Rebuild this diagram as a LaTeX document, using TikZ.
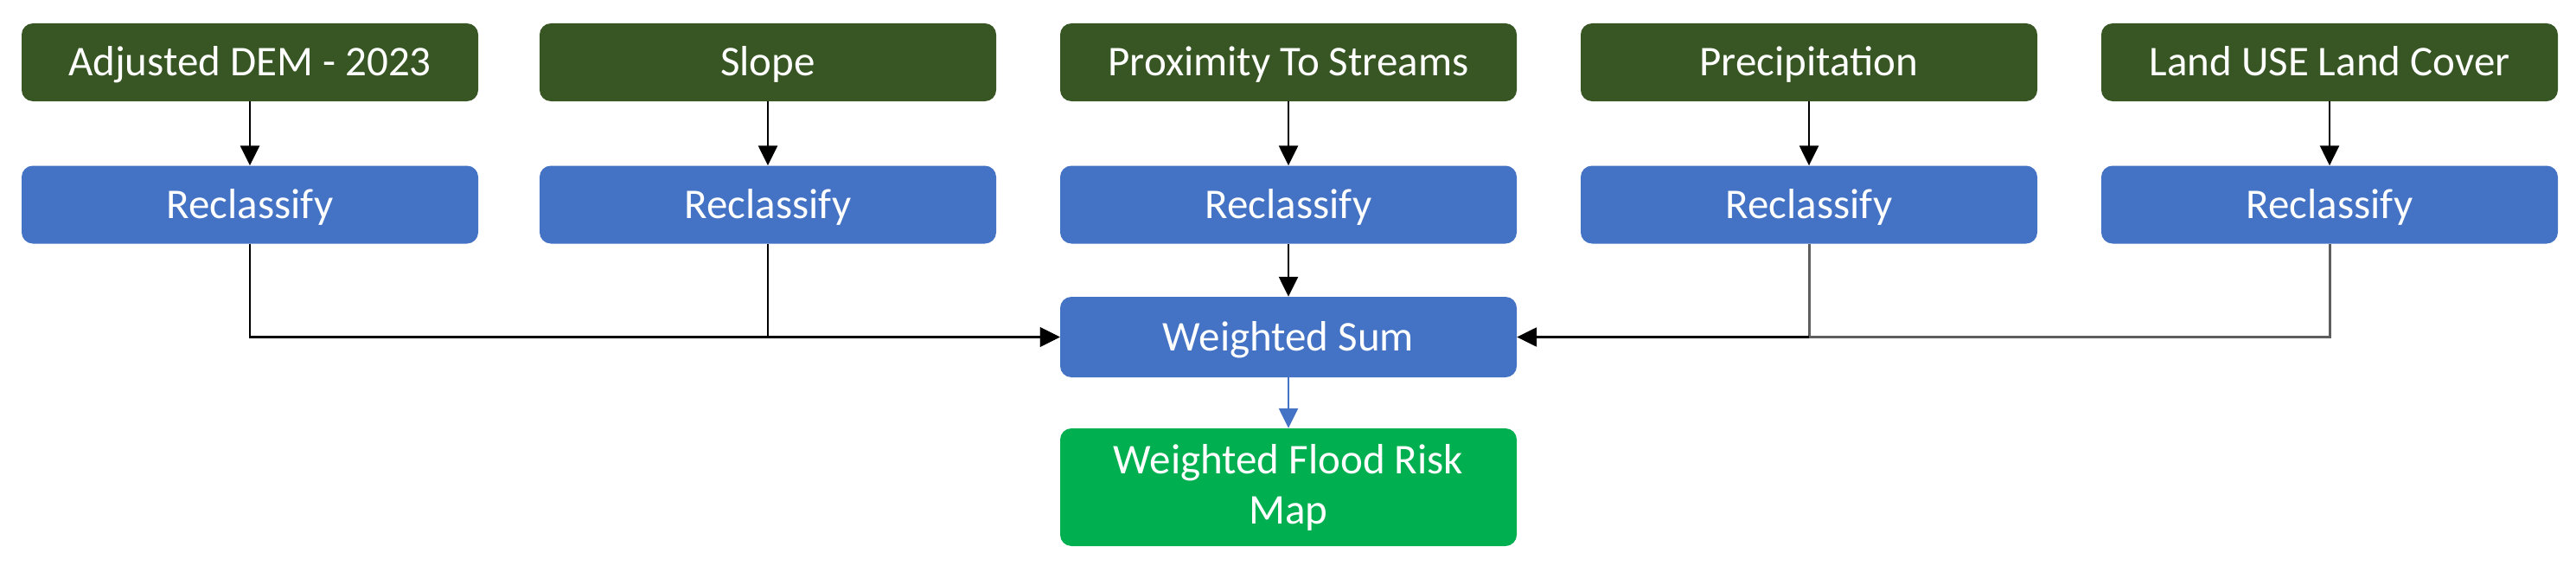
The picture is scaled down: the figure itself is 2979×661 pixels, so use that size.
\documentclass[tikz,border=0pt]{standalone}
\usepackage{fontspec}
\setmainfont{Carlito}
\usetikzlibrary{arrows.meta}
\definecolor{dkgreen}{HTML}{375623}
\definecolor{boxblue}{HTML}{4472C4}
\definecolor{mapgreen}{HTML}{00B050}
\definecolor{lgray}{HTML}{5E5E5E}
\begin{document}
\begin{tikzpicture}[x=1pt,y=-1pt,
  base/.style={rounded corners=13pt, minimum width=528pt, inner sep=0pt, text=white,
    font=\fontsize{49}{58}\selectfont, align=center},
  oneline/.style={base, text height=31pt, text depth=0pt},
  topbox/.style={oneline, fill=dkgreen, minimum height=90pt},
  recbox/.style={oneline, fill=boxblue, minimum height=90pt},
  sumbox/.style={oneline, fill=boxblue, minimum height=93pt},
  mapbox/.style={base, fill=mapgreen, minimum height=136pt},
  tip/.style={-{Triangle[width=22pt,length=23pt]}},
  arr/.style={tip, line width=2.6pt, black},
  grayline/.style={line width=3pt, lgray},
  bluearr/.style={tip, line width=2.6pt, boxblue}]
\useasboundingbox (0,0) rectangle (2979,661);
% top row
\node[topbox] (t1) at (289,72) {Adjusted DEM - 2023};
\node[topbox] (t2) at (888,72) {Slope};
\node[topbox] (t3) at (1490,72) {Proximity To Streams};
\node[topbox] (t4) at (2092,72) {Precipitation};
\node[topbox] (t5) at (2694,72) {Land USE Land Cover};
% reclassify row
\node[recbox] (r1) at (289,236.5) {Reclassify};
\node[recbox] (r2) at (888,236.5) {Reclassify};
\node[recbox] (r3) at (1490,236.5) {Reclassify};
\node[recbox] (r4) at (2092,236.5) {Reclassify};
\node[recbox] (r5) at (2694,236.5) {Reclassify};
% sum and map
\node[sumbox] (ws) at (1490,389.5) {Weighted Sum};
\node[mapbox] (map) at (1490,563) {Weighted Flood Risk\\Map};
% connectors
\foreach \i in {1,...,5} {\draw[arr] (t\i) -- (r\i);}
\draw[arr] (r3) -- (ws);
\draw[arr] (r1.south) |- (ws.west);
\draw[arr] (r2.south) |- (ws.west);
\coordinate (jr) at (r4.south |- ws.east);
\draw[grayline] (r5.south) |- (jr);
\draw[grayline] (r4.south) -- (jr);
\draw[arr] (jr) -- (ws.east);
\draw[bluearr] (ws) -- (map);
\end{tikzpicture}
\end{document}
